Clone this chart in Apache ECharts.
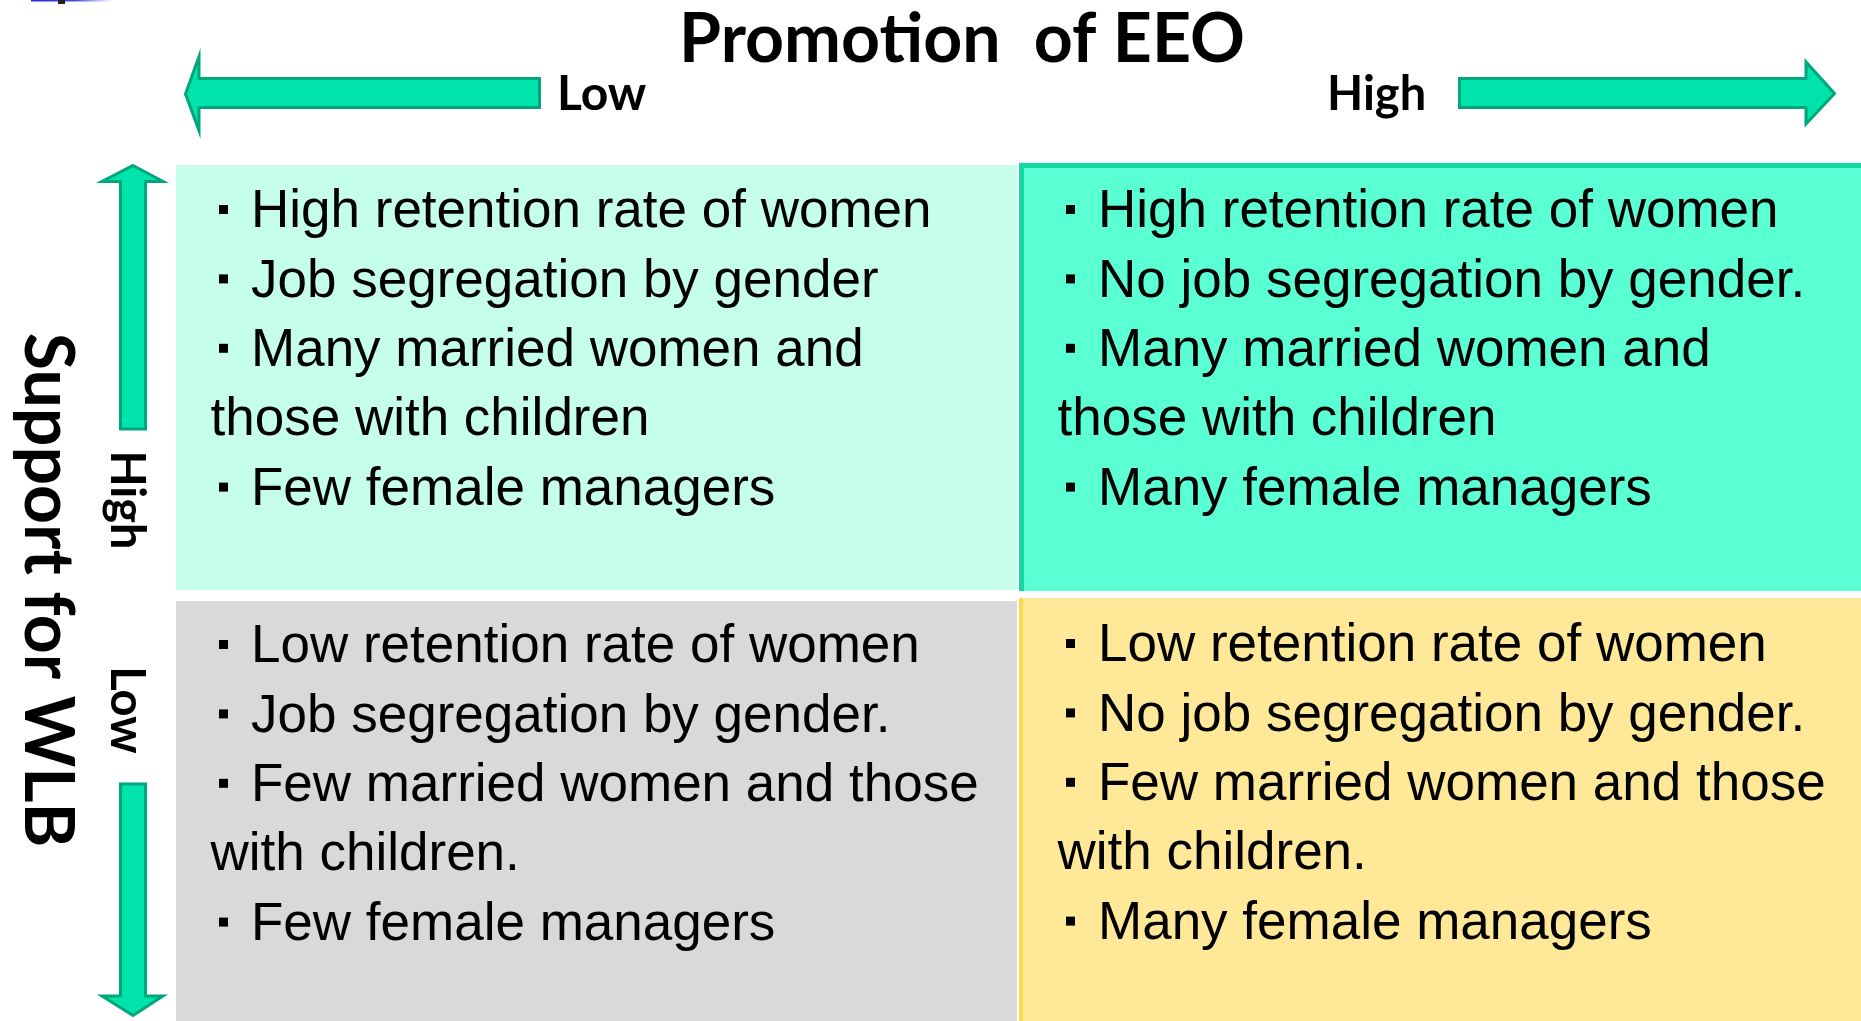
<!DOCTYPE html>
<html>
<head>
<meta charset="utf-8">
<title>Promotion of EEO / Support for WLB</title>
<script src="https://cdn.jsdelivr.net/npm/echarts@6/dist/echarts.min.js"></script>
<style>
  html, body { margin: 0; padding: 0; background: #fff; }
  #chart { width: 1861px; height: 1021px; }
</style>
</head>
<body>
<div id="chart"></div>
<script>
// axes of the matrix
var eeoLevels = ['Low', 'High'];   // x: Promotion of EEO
var wlbLevels = ['Low', 'High'];   // y: Support for WLB
var xTitle = 'Promotion  of EEO';
var yTitle = 'Support for WLB';

// quadrant texts, '・' marks a new item
var linesLowEeoHighWlb = [
    '・High retention rate of women',
    '・Job segregation by gender',
    '・Many married women and',
    'those with children',
    '・Few female managers'
];
var linesHighEeoHighWlb = [
    '・High retention rate of women',
    '・No job segregation by gender.',
    '・Many married women and',
    'those with children',
    '・Many female managers'
];
var linesLowEeoLowWlb = [
    '・Low retention rate of women',
    '・Job segregation by gender.',
    '・Few married women and those',
    'with children.',
    '・Few female managers'
];
var linesHighEeoLowWlb = [
    '・Low retention rate of women',
    '・No job segregation by gender.',
    '・Few married women and those',
    'with children.',
    '・Many female managers'
];

// [eeo index, wlb index, lines]
var cells = [
    [0, 1, linesLowEeoHighWlb],
    [1, 1, linesHighEeoHighWlb],
    [0, 0, linesLowEeoLowWlb],
    [1, 0, linesHighEeoLowWlb]
];

// look of each quadrant (same order as cells)
var cellStyle = [
    { fill: '#C5FFEC', inset: [1, 1.5, 2.5, 0],   padTop: 47.5, padX: 0 },
    { fill: '#5AFFD3', inset: [-1, 0, 1.5, 0.5],  padTop: 49.5, padX: 4, border: '#12D99F', borderW: 5 },
    { fill: '#D9D9D9', inset: [8.5, 1.5, 0, 0],   padTop: 46.5, padX: 0 },
    { fill: '#FFE999', inset: [5.5, 0, 0, 0.5],   padTop: 48.5, padX: 4, border: '#FFD84E', borderW: 4, leftOnly: true }
];

var lineGap = 69.4;
var bodyFont = '"Liberation Sans", Arial, sans-serif';
var headFont = 'Lato, "Open Sans", sans-serif';
var arrowFill = '#00E3AA';
var arrowStroke = '#00A67C';

var myChart = echarts.init(document.getElementById('chart'));

function renderCell(params, api) {
    var c = api.coord([api.value(0), api.value(1)]);
    var s = api.size([1, 1]);
    var st = cellStyle[params.dataIndex];
    var lines = cells[params.dataIndex][2];
    var x0 = c[0] - s[0] / 2 + st.inset[3];
    var y0 = c[1] - s[1] / 2 + st.inset[0];
    var w = s[0] - st.inset[1] - st.inset[3];
    var h = s[1] - st.inset[0] - st.inset[2];
    var children = [{
        type: 'rect',
        shape: { x: x0, y: y0, width: w, height: h },
        style: { fill: st.fill }
    }];
    if (st.border) {
        var half = st.borderW / 2;
        var pts = st.leftOnly
            ? [[x0 + half, y0 + h], [x0 + half, y0]]
            : [[x0 + half, y0 + h], [x0 + half, y0 + half], [x0 + w, y0 + half]];
        children.push({
            type: 'polyline',
            shape: { points: pts },
            style: { stroke: st.border, lineWidth: st.borderW, fill: null }
        });
    }
    lines.forEach(function (line, i) {
        var y = y0 + st.padTop + i * lineGap;
        var bullet = line.charAt(0) === '・';
        if (bullet) {
            // the square middle dot of the original list
            var bx = x0 + 47.5 + st.padX;
            children.push({
                type: 'rect',
                shape: { x: bx - 4.5, y: y - 7.5, width: 9, height: 9 },
                style: { fill: '#000' }
            });
        }
        children.push({
            type: 'text',
            style: {
                text: bullet ? line.slice(1) : line,
                x: x0 + (bullet ? 75 : 34.5) + st.padX, y: y,
                fill: '#000', fontSize: 53, fontFamily: bodyFont,
                align: 'left', verticalAlign: 'middle'
            }
        });
    });
    return { type: 'group', children: children };
}

option = {
    backgroundColor: '#fff',
    animation: false,
    grid: { left: 176, right: 0, top: 164, bottom: 0 },
    xAxis: { type: 'category', data: eeoLevels, show: false },
    yAxis: { type: 'category', data: wlbLevels, show: false },
    series: [{
        type: 'custom',
        silent: true,
        renderItem: renderCell,
        data: cells.map(function (d) { return [d[0], d[1]]; })
    }],
    graphic: [
        // bit of the slide edge left over in the corner
        { type: 'rect', shape: { x: 31, y: 0, width: 82, height: 1.5 },
          style: { fill: new echarts.graphic.LinearGradient(0, 0, 1, 0, [
              { offset: 0, color: '#2727d4' }, { offset: 0.55, color: '#4a4ae0' }, { offset: 1, color: 'rgba(90,90,235,0)' }]) } },
        { type: 'rect', shape: { x: 58, y: 0, width: 7, height: 4 }, style: { fill: '#222' } },

        // horizontal axis
        { type: 'text', x: 962, y: 40,
          style: { text: xTitle, fill: '#000', fontSize: 68, fontWeight: 'bold', fontFamily: headFont, align: 'center', verticalAlign: 'middle' } },
        { type: 'polygon',
          shape: { points: [[185.5, 94], [199, 56.5], [199, 78.5], [539.5, 78.5], [539.5, 107.5], [199, 107.5], [199, 130.5]] },
          style: { fill: arrowFill, stroke: arrowStroke, lineWidth: 3 } },
        { type: 'text', x: 557, y: 95,
          style: { text: eeoLevels[0], fill: '#000', fontSize: 48, fontWeight: 'bold', fontFamily: headFont, align: 'left', verticalAlign: 'middle' } },
        { type: 'text', x: 1327, y: 95,
          style: { text: eeoLevels[1], fill: '#000', fontSize: 47, fontWeight: 'bold', fontFamily: headFont, align: 'left', verticalAlign: 'middle' } },
        { type: 'polygon',
          shape: { points: [[1459.5, 78.5], [1806, 78.5], [1806, 62], [1834.5, 93.5], [1806, 124], [1806, 107.5], [1459.5, 107.5]] },
          style: { fill: arrowFill, stroke: arrowStroke, lineWidth: 3 } },

        // vertical axis
        { type: 'text', x: 47, y: 590, rotation: -Math.PI / 2,
          style: { text: yTitle, fill: '#000', fontSize: 68, fontWeight: 'bold', fontFamily: headFont, align: 'center', verticalAlign: 'middle' } },
        { type: 'polygon',
          shape: { points: [[133, 165.5], [163, 181.5], [145.5, 181.5], [145.5, 429], [120.5, 429], [120.5, 181.5], [102, 181.5]] },
          style: { fill: arrowFill, stroke: arrowStroke, lineWidth: 3 } },
        { type: 'text', x: 126, y: 500, rotation: -Math.PI / 2,
          style: { text: wlbLevels[1], fill: '#000', fontSize: 47, fontWeight: 'bold', fontFamily: headFont, align: 'center', verticalAlign: 'middle' } },
        { type: 'text', x: 126, y: 710, rotation: -Math.PI / 2,
          style: { text: wlbLevels[0], fill: '#000', fontSize: 47, fontWeight: 'bold', fontFamily: headFont, align: 'center', verticalAlign: 'middle' } },
        { type: 'polygon',
          shape: { points: [[120.5, 784], [145.5, 784], [145.5, 996], [163, 996], [133, 1015.5], [102, 996], [120.5, 996]] },
          style: { fill: arrowFill, stroke: arrowStroke, lineWidth: 3 } }
    ]
};
myChart.setOption(option);
</script>
</body>
</html>
